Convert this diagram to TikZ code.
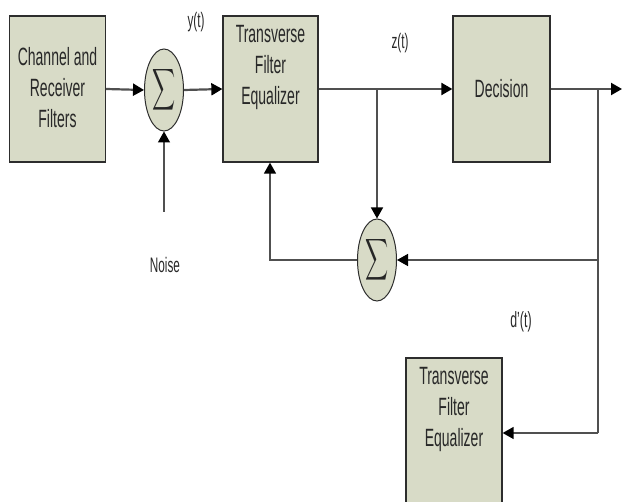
\documentclass[tikz,border=0pt]{standalone}
\usepackage{fontspec}
\setmainfont{Liberation Sans}[FakeStretch=0.56]
\usetikzlibrary{arrows.meta,shapes.geometric}
\definecolor{boxfill}{RGB}{216,219,199}
\definecolor{boxline}{RGB}{45,45,45}
\definecolor{wire}{RGB}{80,80,80}
\definecolor{txt}{RGB}{40,40,40}
\newcommand{\bigsig}{\scalebox{1.6}[2.9]{$\displaystyle\sum$}}
\begin{document}
\begin{tikzpicture}[x=1pt,y=-1pt,
  blk/.style={draw=boxline,fill=boxfill,line width=1.3pt,minimum width=96pt,minimum height=146pt,inner sep=0pt},
  sumnode/.style={ellipse,draw=boxline,fill=boxfill,line width=1pt,minimum width=39pt,minimum height=82pt,inner sep=0pt,text=black!85},
  btext/.style={text=txt,font=\fontsize{25}{31}\selectfont,align=center},
  lbl/.style={text=txt,font=\fontsize{21}{25}\selectfont,inner sep=0pt},
  tip/.style={-{Triangle[length=11pt,width=12pt,color=black]}},
  main/.style={draw=wire,line width=2.2pt,tip},
  thin/.style={draw=wire,line width=1.4pt,tip},
  plain/.style={draw=wire,line width=1.4pt}]
\useasboundingbox (0,0) rectangle (622,502);
\begin{scope}
\clip (0,0) rectangle (622,502);
\node[blk] (b1) at (57.5,89) {};
\node[btext] (t1) at (57.5,88) {Channel and\\Receiver\\Filters};
\node[sumnode] (s1) at (164,90) {\bigsig};
\node[blk,minimum width=95pt] (b2) at (270.5,89) {};
\node[btext,anchor=north] (t2) at (270.5,22) {Transverse\\Filter\\Equalizer};
\node[blk,minimum width=97pt] (b3) at (501.5,89) {};
\node[btext] (t3) at (501.5,89) {Decision};
\node[sumnode] (s2) at (377,260) {\bigsig};
\node[blk,minimum height=157pt] (b4) at (454,436.5) {};
\node[btext,anchor=north] (t4) at (454,364) {Transverse\\Filter\\Equalizer};
\end{scope}
\node[lbl] (ly) at (196,22) {y(t)};
\node[lbl] (lz) at (400,43) {z(t)};
\node[lbl,font=\fontsize{22}{26}\selectfont] (ld) at (521,322) {d'(t)};
\node[lbl] (ln) at (165,265) {Noise};
\coordinate (out) at (622,89);
\coordinate (j1) at (377,89);
\coordinate (j2) at (598,89);
\coordinate (j3) at (598,260);
\coordinate (j4) at (598,433);
\coordinate (fb) at (270,260);
\coordinate (nz) at (164,212);
\draw[main] (b1.east) -- (s1.west);
\draw[main] (s1.east) -- (b2.west);
\draw[main] (b2.east) -- (b3.west);
\draw[main] (b3.east) -- (out);
\draw[thin] (j1) -- (s2.north);
\draw[plain] (j2) -- (j4);
\draw[thin] (j4) -- (b4.east |- j4);
\draw[thin] (j3) -- (s2.east);
\draw[thin] (s2.west) -- (fb) -- (b2.south -| fb);
\draw[thin] (nz) -- (s1.south);
\end{tikzpicture}
\end{document}
